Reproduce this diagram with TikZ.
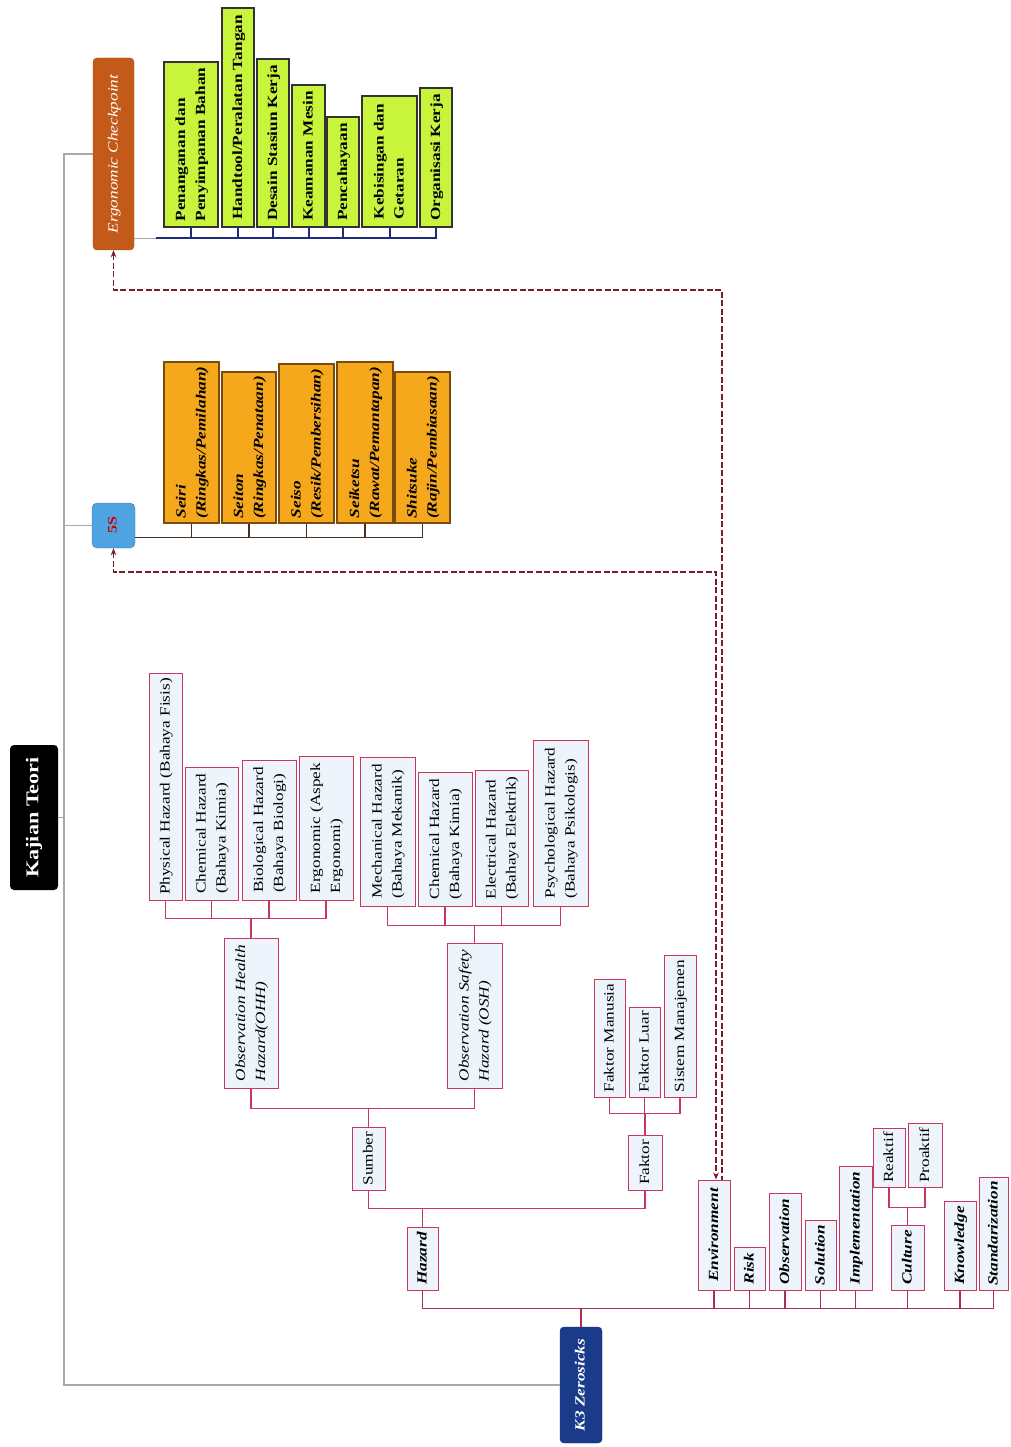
\documentclass[tikz,border=0pt]{standalone}
\usepackage{fontspec}
\setmainfont{Liberation Serif}
\usepackage{graphicx}
\usetikzlibrary{arrows.meta,calc}
\definecolor{pk}{HTML}{C8385E}
\definecolor{hzfill}{HTML}{EEF4FB}
\definecolor{limef}{HTML}{C8F53C}
\definecolor{orf}{HTML}{F6A81C}
\definecolor{ordr}{HTML}{7A4A10}
\definecolor{ergof}{HTML}{C45A1A}
\definecolor{bluef}{HTML}{4FA3E0}
\definecolor{navyf}{HTML}{1A3A8A}
\definecolor{navyl}{HTML}{1F2A78}
\definecolor{grayl}{HTML}{A8A8A8}
\definecolor{dshc}{HTML}{7A1F2A}
\definecolor{brl}{HTML}{4A2E1E}
\newcommand\rt[1]{\rotatebox{90}{\scalebox{1.23}[1]{\begin{tabular}{@{}l@{}}#1\end{tabular}}}}
\newcommand\mybox[7]{%
  \pgfmathsetmacro\bxw{#5-#3}\pgfmathsetmacro\bxh{#6-#4}%
  \node[#1, minimum width=\bxw pt, minimum height=\bxh pt] (#2) at ({(#3+#5)/2},{(#4+#6)/2}) {\rt{#7}};}
\tikzset{
  basebox/.style={inner sep=0pt, font=\fontsize{14}{20}\selectfont},
  hzbox/.style={basebox, draw=pk, fill=hzfill, line width=1pt},
  hzibox/.style={hzbox, font=\fontsize{14}{20}\selectfont\itshape},
  kkbox/.style={hzbox, font=\fontsize{14}{20}\selectfont\bfseries\itshape},
  grbox/.style={basebox, draw=black!80, fill=limef, line width=1.3pt, font=\fontsize{14}{20}\selectfont\bfseries},
  orbox/.style={basebox, draw=ordr, fill=orf, line width=1.3pt, font=\fontsize{14}{20}\selectfont\bfseries\itshape},
  ktbox/.style={basebox, fill=black, text=white, rounded corners=4pt, font=\fontsize{18}{22}\selectfont\bfseries},
  ergobox/.style={basebox, fill=ergof, draw=ergof!80!black, text=white, rounded corners=4pt, font=\fontsize{14}{20}\selectfont\itshape},
  fivebox/.style={basebox, fill=bluef, draw=bluef!80!black, text=red!80!black, rounded corners=5pt, font=\fontsize{13}{15}\selectfont\bfseries},
  k3box/.style={basebox, fill=navyf, draw=navyf!80!black, text=white, rounded corners=4pt, font=\fontsize{14}{18}\selectfont\bfseries\itshape},
  pkl/.style={draw=pk, line width=1.2pt},
  k3l/.style={draw=pk!85!black, line width=1.6pt},
  nvl/.style={draw=navyl, line width=2pt},
  brline/.style={draw=brl, line width=1.3pt},
  gyl/.style={draw=grayl, line width=1.8pt},
  dsh/.style={draw=dshc, line width=1.5pt, dash pattern=on 6pt off 2.5pt},
  mytip/.tip={Stealth[length=7pt,width=5.5pt]},
}
\begin{document}
\begin{tikzpicture}[x=1pt,y=-1pt]
\useasboundingbox[fill=white] (0,0) rectangle (1010,1447);
% main nodes
\mybox{ktbox}{kt}{10}{745}{58}{890}{Kajian Teori}
\mybox{ergobox}{ergo}{93}{58}{134}{250}{Ergonomic Checkpoint}
\mybox{fivebox}{fives}{92}{503}{135}{548}{5S}
\mybox{k3box}{k3}{560}{1327}{602}{1443}{K3 Zerosicks}
% ergonomic children
\mybox{grbox}{g1}{164}{62}{218}{227}{Penanganan dan\\Penyimpanan Bahan}
\mybox{grbox}{g2}{222}{8}{254}{227}{Handtool/Peralatan Tangan}
\mybox{grbox}{g3}{257}{59}{289}{227}{Desain Stasiun Kerja}
\mybox{grbox}{g4}{292}{85}{325}{227}{Keamanan Mesin}
\mybox{grbox}{g5}{327}{117}{359}{227}{Pencahayaan}
\mybox{grbox}{g6}{362}{96}{417}{227}{Kebisingan dan\\Getaran}
\mybox{grbox}{g7}{420}{88}{452}{227}{Organisasi Kerja}
% 5S children
\mybox{orbox}{o1}{164}{362}{219}{523}{Seiri\\(Ringkas/Pemilahan)}
\mybox{orbox}{o2}{222}{372}{276}{523}{Seiton\\(Ringkas/Penataan)}
\mybox{orbox}{o3}{279}{364}{334}{523}{Seiso\\(Resik/Pembersihan)}
\mybox{orbox}{o4}{337}{362}{393}{523}{Seiketsu\\(Rawat/Pemantapan)}
\mybox{orbox}{o5}{395}{372}{450}{523}{Shitsuke\\(Rajin/Pembiasaan)}
% hazard leaves
\mybox{hzbox}{h1}{149}{673}{182}{900}{Physical Hazard (Bahaya Fisis)}
\mybox{hzbox}{h2}{185}{767}{238}{900}{Chemical Hazard\\(Bahaya Kimia)}
\mybox{hzbox}{h3}{242}{760}{296}{900}{Biological Hazard\\(Bahaya Biologi)}
\mybox{hzbox}{h4}{299}{756}{353}{900}{Ergonomic (Aspek\\Ergonomi)}
\mybox{hzbox}{s1}{360}{757}{415}{906}{Mechanical Hazard\\(Bahaya Mekanik)}
\mybox{hzbox}{s2}{418}{772}{472}{906}{Chemical Hazard\\(Bahaya Kimia)}
\mybox{hzbox}{s3}{475}{770}{528}{906}{Electrical Hazard\\(Bahaya Elektrik)}
\mybox{hzbox}{s4}{533}{740}{588}{906}{Psychological Hazard\\(Bahaya Psikologis)}
\mybox{hzibox}{ohh}{224}{938}{278}{1088}{Observation Health\\Hazard(OHH)}
\mybox{hzibox}{osh}{447}{943}{502}{1088}{Observation Safety\\Hazard (OSH)}
\mybox{hzbox}{sumber}{352}{1127}{385}{1190}{Sumber}
\mybox{hzbox}{f1}{594}{979}{625}{1097}{Faktor Manusia}
\mybox{hzbox}{f2}{629}{1007}{660}{1097}{Faktor Luar}
\mybox{hzbox}{f3}{664}{955}{696}{1097}{Sistem Manajemen}
\mybox{hzbox}{faktor}{628}{1135}{662}{1190}{Faktor}
\mybox{kkbox}{hazard}{407}{1227}{438}{1290}{Hazard}
% K3 children
\mybox{kkbox}{env}{698}{1180}{730}{1290}{Environment}
\mybox{kkbox}{risk}{734}{1247}{765}{1290}{Risk}
\mybox{kkbox}{obs}{769}{1193}{801}{1290}{Observation}
\mybox{kkbox}{sol}{805}{1220}{836}{1290}{Solution}
\mybox{kkbox}{imp}{839}{1166}{872}{1290}{Implementation}
\mybox{kkbox}{cul}{891}{1225}{924}{1290}{Culture}
\mybox{hzbox}{rea}{873}{1128}{905}{1187}{Reaktif}
\mybox{hzbox}{pro}{908}{1123}{942}{1187}{Proaktif}
\mybox{kkbox}{know}{944}{1201}{976}{1290}{Knowledge}
\mybox{kkbox}{std}{979}{1177}{1008}{1290}{Standarization}
% gray trunk
\draw[gyl] (kt.east) -- ++(6,0) |- (ergo.west);
\draw[gyl] (kt.east) -- ++(6,0) |- (fives.west);
\draw[gyl] (kt.east) -- ++(6,0) |- (k3.west);
% ergonomic tree
\draw[gyl, line width=1.2pt] ([yshift=12pt]ergo.south east) -- ++(22,0);
\foreach \n in {g1,g2,g3,g4,g5,g6,g7}
  \draw[nvl] ([shift={(22pt,12pt)}]ergo.south east) -| (\n.south);
% 5S tree
\foreach \n in {o1,o2,o3,o4,o5}
  \draw[brline] ([yshift=11pt]fives.south east) -| (\n.south);
% hazard trees
\foreach \n in {h1,h2,h3,h4}
  \draw[pkl] (\n.south) -- ++(0,18) -| (ohh.north);
\foreach \n in {s1,s2,s3,s4}
  \draw[pkl] (\n.south) -- ++(0,19) -| (osh.north);
\foreach \n in {ohh,osh}
  \draw[pkl] (\n.south) -- ++(0,20) -| (sumber.north);
\foreach \n in {f1,f2,f3}
  \draw[pkl] (\n.south) -- ++(0,16) -| (faktor.north);
\foreach \n in {sumber,faktor}
  \draw[pkl] (\n.south) -- ++(0,18) -| (hazard.north);
\foreach \n in {rea,pro}
  \draw[pkl] (\n.south) -- ++(0,20) -| (cul.north);
\foreach \n in {hazard,env,risk,obs,sol,imp,cul,know,std}
  \draw[k3l] (\n.south) -- ++(0,18) -| (k3.north);
% dashed relations
\draw[dsh,mytip-] (ergo.south) -- ++(0,40) -| ([xshift=8pt]env.north);
\draw[dsh,mytip-mytip] (fives.south) -- ++(0,24) -| ([xshift=2pt]env.north);
\end{tikzpicture}
\end{document}
